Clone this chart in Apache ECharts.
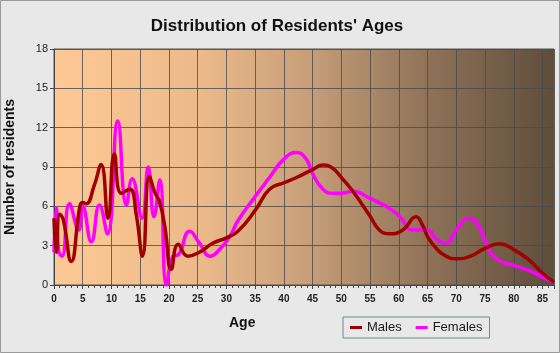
<!DOCTYPE html>
<html>
<head>
<meta charset="utf-8">
<script src="https://cdn.jsdelivr.net/npm/echarts@6/dist/echarts.min.js"></script>
<style>
  html, body { margin: 0; padding: 0; background: #e8e8e8; }
  #chart { width: 560px; height: 353px; }
</style>
</head>
<body>
<div id="chart"></div>
<script>
// ages (x) and number of residents (y)
const maleAges = [0, 0.4, 1.0, 1.6, 3.0, 4.5, 5.0, 5.6, 7.0, 8.2, 9.4, 10.5, 11.7, 13.2, 14.3, 15.4, 16.6, 17.5, 18.4, 19.3, 20.4, 21.6, 23.3, 25.3, 27.7, 30, 32, 35.1, 37.5, 40, 42.2, 45, 46.8, 48.5, 50, 52, 55, 56.6, 58.4, 60.7, 63, 64.2, 65, 66.5, 68.2, 70, 72.5, 75, 77.5, 80, 82.7, 85, 87];
const maleValues = [5.1, 2.5, 5.4, 5.0, 1.8, 6.0, 6.3, 6.2, 7.6, 9.2, 5.1, 10.0, 7.0, 7.3, 5.4, 2.2, 8.3, 7.1, 6.3, 4.4, 1.2, 3.1, 2.2, 2.5, 3.2, 3.6, 4.1, 5.75, 7.3, 7.8, 8.2, 8.8, 9.15, 8.9, 8.2, 7.15, 5.25, 4.2, 3.9, 4.2, 5.2, 4.5, 3.7, 2.8, 2.2, 2.0, 2.2, 2.8, 3.15, 2.7, 1.9, 0.9, 0.2];
const femaleAges = [0, 0.4, 0.8, 1.4, 2.7, 4.3, 5.0, 6.5, 7.9, 9.3, 11.1, 12.6, 13.6, 15.3, 16.4, 17.4, 18.4, 19.6, 20.7, 21.6, 23.6, 25.3, 27.2, 28.8, 30.6, 32, 35.1, 37.5, 40, 42.2, 43.9, 45, 46.8, 48.5, 50, 52, 55, 57.8, 60, 62.5, 65, 66.5, 68.2, 70, 72.2, 73.9, 75.6, 77.3, 80, 82.7, 85, 87];
const femaleValues = [2.5, 5.9, 2.6, 2.2, 6.2, 4.2, 6.0, 3.3, 6.1, 3.9, 12.5, 6.1, 8.1, 5.1, 9.0, 5.2, 8.0, 0, 2.2, 2.3, 4.1, 3.2, 2.2, 2.7, 3.7, 4.9, 6.8, 8.2, 9.6, 10.1, 9.6, 8.5, 7.3, 7.0, 7.0, 7.15, 6.6, 6.0, 5.3, 4.2, 4.2, 3.5, 3.2, 4.2, 5.1, 4.5, 2.8, 1.9, 1.5, 1.1, 0.6, 0.2];

const pairs = (xs, ys) => xs.map((x, i) => [x, ys[i]]);

var myChart = echarts.init(document.getElementById("chart"));
myChart.setOption({
  backgroundColor: "#e8e8e8",
  title: {
    text: "Distribution of Residents' Ages",
    left: 272,
    textAlign: "center",
    top: 13,
    textStyle: { fontFamily: "Liberation Sans", fontSize: 17, fontWeight: "bold", color: "#111" },
  },
  graphic: [
    {
      type: "rect",
      shape: { x: 0.5, y: 0.5, width: 559, height: 352 },
      style: { fill: "none", stroke: "#9a9a9a", lineWidth: 1 },
      silent: true,
    },
    {
      type: "text",
      left: 229,
      top: 316,
      style: { text: "Age", font: "bold 14px 'Liberation Sans'", fill: "#111" },
    },
  ],
  legend: {
    left: 343,
    top: 317,
    padding: [4, 7, 4, 7],
    borderColor: "#6e8a8a",
    borderWidth: 1,
    icon: "rect",
    itemWidth: 12,
    itemHeight: 3,
    itemGap: 14,
    textStyle: { fontFamily: "Liberation Sans", fontSize: 13, color: "#1a1a1a" },
    data: ["Males", "Females"],
  },
  grid: {
    left: 54,
    right: 6,
    top: 49,
    bottom: 68,
    outerBoundsMode: "none",
    containLabel: false,
    show: true,
    borderColor: "#555",
    borderWidth: 1,
    backgroundColor: {
      type: "linear",
      x: 0, y: 0, x2: 1, y2: 0,
      colorStops: [
        { offset: 0, color: "#fec995" },
        { offset: 0.3, color: "#ebb98a" },
        { offset: 0.5, color: "#c9a07a" },
        { offset: 0.75, color: "#8e7258" },
        { offset: 1, color: "#5e4d3b" },
      ],
    },
  },
  xAxis: {
    type: "value",
    min: 0,
    max: 87,
    interval: 5,
    axisLine: { lineStyle: { color: "#444" } },
    axisTick: { length: 4, lineStyle: { color: "#444" } },
    minorTick: { show: true, splitNumber: 5, length: 3, lineStyle: { color: "#444" } },
    axisLabel: { margin: 9, showMaxLabel: false, fontFamily: "Liberation Sans", fontSize: 10, fontWeight: "bold", color: "#222" },
    splitLine: { show: true, lineStyle: { color: "#4a4a4a", opacity: 0.8 } },
  },
  yAxis: {
    type: "value",
    min: 0,
    max: 18,
    interval: 3,
    name: "Number of residents",
    nameLocation: "middle",
    nameGap: 37,
    nameTextStyle: { fontFamily: "Liberation Sans", fontSize: 14, fontWeight: "bold", color: "#111" },
    axisLine: { show: true, lineStyle: { color: "#444" } },
    axisTick: { show: true, length: 4, lineStyle: { color: "#444" } },
    axisLabel: { margin: 6, fontFamily: "Liberation Sans", fontSize: 11, color: "#222" },
    splitLine: { show: true, lineStyle: { color: "#4a4a4a", opacity: 0.8 } },
  },
  series: [
    {
      name: "Males",
      type: "line",
      smooth: true,
      showSymbol: false,
      lineStyle: { width: 3.5, color: "#a00000" },
      itemStyle: { color: "#a00000" },
      data: pairs(maleAges, maleValues),
      z: 3,
    },
    {
      name: "Females",
      type: "line",
      smooth: true,
      showSymbol: false,
      lineStyle: { width: 3.5, color: "#ff00ff" },
      itemStyle: { color: "#ff00ff" },
      data: pairs(femaleAges, femaleValues),
      z: 2,
    },
  ],
});
</script>
</body>
</html>
